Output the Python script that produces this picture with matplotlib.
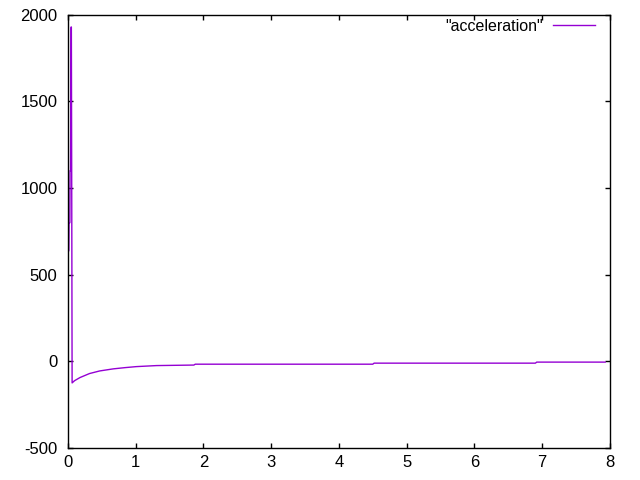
import matplotlib

matplotlib.use("Agg")
import matplotlib.pyplot as plt

# values (gnuplot style output)
t = [0.005, 0.015, 0.018, 0.030, 0.033, 0.040, 0.048, 0.052, 0.058, 0.063,
     0.10, 0.18, 0.32, 0.47, 0.67, 0.84, 1.01, 1.31, 1.86, 1.88,
     4.50, 4.52, 6.90, 6.92, 7.93]
acc = [630, 640, 800, 800, 1100, 1100, 1930, 1930, 890, -125,
       -112, -94, -71, -56, -44, -37, -31, -25, -22, -17,
       -17, -11, -11, -5, -5]

xticks = [0, 1, 2, 3, 4, 5, 6, 7, 8]
yticks = [-500, 0, 500, 1000, 1500, 2000]

plt.rcParams["font.family"] = ["Liberation Sans", "DejaVu Sans"]
plt.rcParams["font.size"] = 12
plt.rcParams["axes.unicode_minus"] = False

fig = plt.figure(figsize=(6.4, 4.8), dpi=100)
ax = fig.add_axes([0.106, 0.067, 0.847, 0.902])

ax.plot(t, acc, color="#9400d3", linewidth=1.0, label='"acceleration"')

ax.set_xlim(0, 8)
ax.set_ylim(-500, 2000)
ax.set_xticks(xticks)
ax.set_yticks(yticks)
ax.tick_params(direction="in", length=3.5, width=1, top=True, right=True,
               labelsize=12)
ax.tick_params(axis="y", pad=7.5)
ax.tick_params(axis="x", pad=5)
for s in ax.spines.values():
    s.set_linewidth(1.0)

ax.legend(loc="upper right", frameon=False, markerfirst=False,
          handlelength=2.6, handletextpad=0.65, borderpad=0, borderaxespad=0,
          bbox_to_anchor=(595 / 640, 1 - 19 / 480),
          bbox_transform=fig.transFigure, fontsize=11.5)

fig.savefig("out.png", dpi=100)
